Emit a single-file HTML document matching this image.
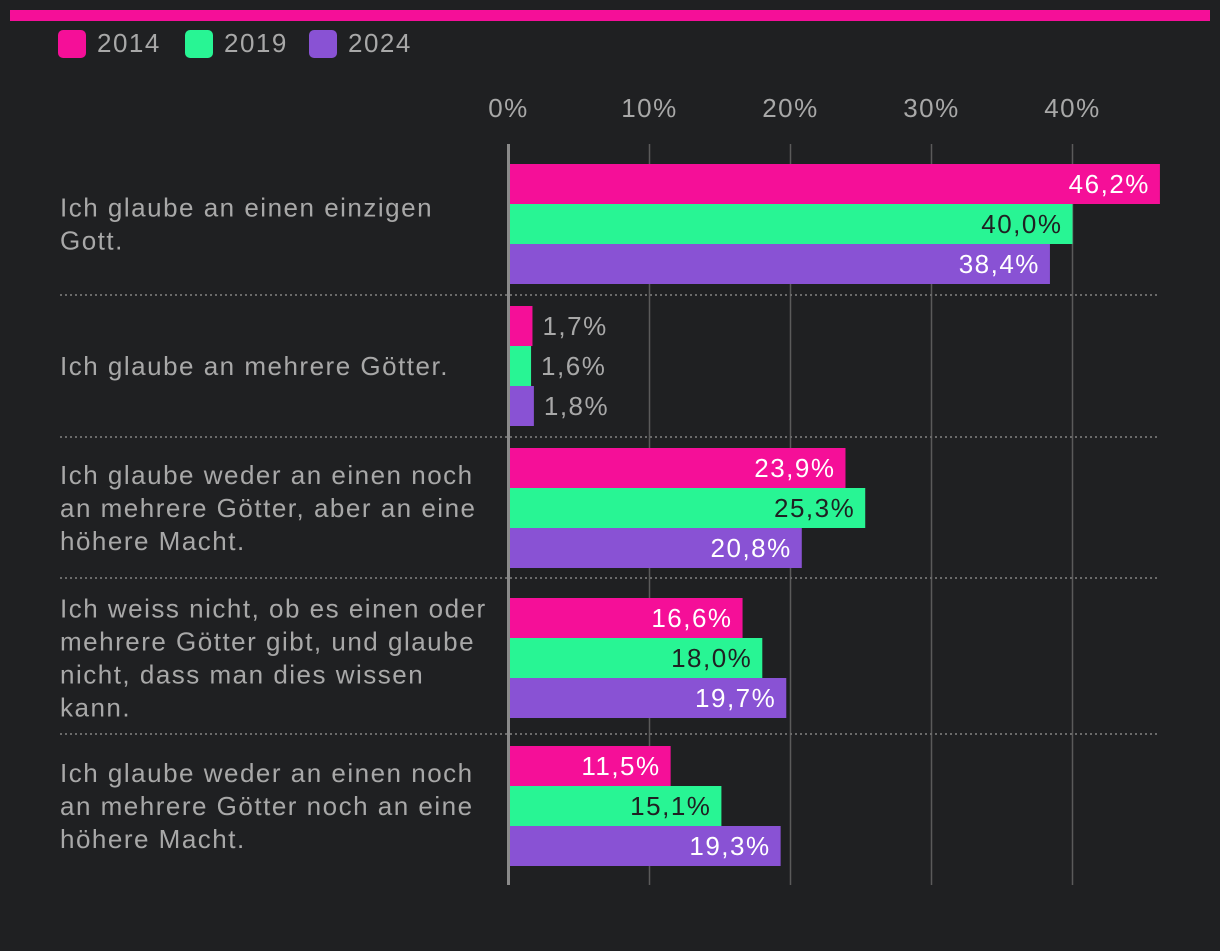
<!DOCTYPE html>
<html><head><meta charset="utf-8"><style>
body{margin:0;background:#1f2022;width:1220px;height:946px;overflow:hidden;font-family:"Liberation Sans",sans-serif;}
svg text{font-family:"Liberation Sans",sans-serif;letter-spacing:1.5px;}
</style></head><body>
<svg id="c" width="1220" height="946">
<rect x="10" y="10" width="1200" height="11" fill="#f50f98"/>
</svg>
<script>
const categories=[["Ich glaube an einen einzigen","Gott."],["Ich glaube an mehrere Götter."],["Ich glaube weder an einen noch","an mehrere Götter, aber an eine","höhere Macht."],["Ich weiss nicht, ob es einen oder","mehrere Götter gibt, und glaube","nicht, dass man dies wissen","kann."],["Ich glaube weder an einen noch","an mehrere Götter noch an eine","höhere Macht."]];
const series=["2014","2019","2024"];
const v2014=[46.2,1.7,23.9,16.6,11.5];
const v2019=[40.0,1.6,25.3,18.0,15.1];
const v2024=[38.4,1.8,20.8,19.7,19.3];
const ticks=[0,10,20,30,40];
const colors=["#f50f98","#28f594","#8952d4"];
const textOn=["#ffffff","#1f2022","#ffffff"];
const svg=document.getElementById('c');
const NS="http://www.w3.org/2000/svg";
function el(t,a){const e=document.createElementNS(NS,t);for(const k in a)e.setAttribute(k,a[k]);svg.appendChild(e);return e;}
const x0=508.5,pxPer=14.1;
function xs(v){return x0+v*pxPer;}
series.forEach((s,i)=>{
 const lx=[58,185,309][i];
 const r=el('rect',{x:lx,y:30,width:28,height:28,rx:5,fill:colors[i]});
 
 
 const t=el('text',{x:lx+39,y:52,'font-size':26,fill:'#a8a8a8'});t.textContent=s;
 
 
});
ticks.forEach(tk=>{
 const x=xs(tk);
 const l=el('line',{x1:x,x2:x,y1:144,y2:885,stroke:tk===0?'#8a8a8a':'#5a5a5a','stroke-width':tk===0?3:1.5});
 
 
 const t=el('text',{x:x,y:117,'font-size':26,fill:'#a8a8a8','text-anchor':'middle'});t.textContent=tk+'%';
 
 
});
const groupTops=[164,306,448,598,746];
const seps=[295,437,578,734];
seps.forEach((y,i)=>{
 const l=el('line',{x1:60,x2:1160,y1:y,y2:y,stroke:'#6a6a6a','stroke-width':2,'stroke-dasharray':'2,3'});
 
 
});
const vals=[v2014,v2019,v2024];
categories.forEach((lines,g)=>{
 const top=groupTops[g];
 const mid=top+60;
 const lh=33, start=mid-(lines.length-1)*lh/2+9;
 lines.forEach((ln,k)=>{
  const t=el('text',{x:60,y:start+k*lh,'font-size':26,fill:'#a8a8a8'});t.textContent=ln;
  
  
 });
 vals.forEach((arr,s)=>{
  const v=arr[g],y=top+s*40,w=xs(v)-510;
  const r=el('rect',{x:510,y:y,width:Math.max(w,0),height:40,fill:colors[s]});
  
  
  const lbl=v.toFixed(1).replace('.',',')+'%';
  const inside=w>120;
  const t=el('text',{x:inside?xs(v)-10:xs(v)+10,y:y+29,'font-size':26,fill:inside?textOn[s]:'#a8a8a8','text-anchor':inside?'end':'start'});
  t.textContent=lbl;
  
  
 });
});
</script>
</body></html>
